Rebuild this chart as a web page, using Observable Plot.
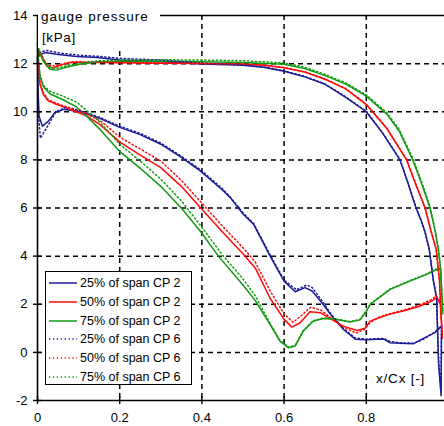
<!DOCTYPE html>
<html><head><meta charset="utf-8">
<script src="https://cdn.jsdelivr.net/npm/d3@7"></script>
<script src="https://cdn.jsdelivr.net/npm/@observablehq/plot@0.6"></script>
<style>
body{margin:0;background:#fff;}
#wrap{position:relative;width:444px;height:426px;overflow:hidden;font-family:"Liberation Sans",Arial,sans-serif;color:#000;}
.lbl{position:absolute;white-space:nowrap;line-height:15px;}
#legend{position:absolute;left:45px;top:271px;width:145px;height:112px;border:1.5px solid #000;background:#fff;}
.row{position:absolute;left:0;height:18px;display:flex;align-items:center;font-size:12.5px;white-space:nowrap;}
.row svg{margin-left:3px;margin-right:3px;}
</style></head><body><div id="wrap"></div>
<script>
// ---- data (x/Cx, gauge pressure kPa), loop: pressure side LE->TE, then suction side TE->LE
const x25cp2 = [0,0.005,0.018,0.046,0.095,0.145,0.2,0.3,0.4,0.5,0.55,0.6,0.65,0.7,0.75,0.8,0.84,0.882,0.902,0.921,0.933,0.943,0.953,0.963,0.971,0.976,0.982,0.983,0.967,0.939,0.915,0.88,0.858,0.842,0.8,0.773,0.744,0.716,0.692,0.668,0.651,0.627,0.6,0.566,0.526,0.5,0.469,0.45,0.396,0.35,0.3,0.25,0.2,0.153,0.104,0.064,0.042,0.026,0.012,0.004,0.001,0];
const p25cp2 = [12.2,12.35,12.46,12.39,12.3,12.25,12.15,12.08,11.98,11.93,11.85,11.68,11.45,11.14,10.6,10.0,9.1,8.0,7.0,6.0,5.5,5.0,4.3,3.0,2.27,-0.5,-1.8,1.09,0.82,0.58,0.36,0.38,0.40,0.56,0.52,0.55,0.96,1.51,2.06,2.55,2.69,2.52,2.96,4.0,5.32,5.75,6.43,6.75,7.54,8.1,8.65,9.05,9.35,9.72,10.0,10.1,9.96,9.6,9.4,9.8,11.0,12.2];

const x25cp6 = [0,0.005,0.02,0.05,0.1,0.15,0.2,0.3,0.4,0.5,0.55,0.6,0.65,0.7,0.75,0.8,0.84,0.882,0.902,0.921,0.933,0.943,0.953,0.963,0.971,0.976,0.982,0.983,0.967,0.94,0.915,0.88,0.858,0.842,0.8,0.773,0.744,0.716,0.692,0.668,0.655,0.63,0.6,0.566,0.526,0.5,0.469,0.45,0.396,0.35,0.3,0.25,0.2,0.153,0.104,0.07,0.045,0.028,0.014,0.007,0.002,0];
const p25cp6 = [12.3,12.45,12.55,12.45,12.35,12.3,12.22,12.15,12.02,11.95,11.86,11.7,11.47,11.15,10.62,10.02,9.12,8.02,7.02,6.02,5.5,5.0,4.3,3.0,2.3,-0.4,-1.6,1.1,0.85,0.55,0.38,0.4,0.45,0.58,0.55,0.6,1.0,1.55,2.15,2.7,2.8,2.6,3.0,4.05,5.35,5.8,6.45,6.8,7.6,8.15,8.7,9.1,9.4,9.75,10.05,10.2,10.0,9.5,9.1,8.9,10.0,12.3];

const x50cp2 = [0,0.006,0.014,0.022,0.038,0.062,0.08,0.15,0.3,0.4,0.5,0.55,0.6,0.65,0.7,0.75,0.8,0.85,0.898,0.92,0.943,0.958,0.97,0.978,0.982,0.985,0.98,0.971,0.959,0.931,0.89,0.86,0.833,0.809,0.797,0.777,0.744,0.716,0.688,0.663,0.639,0.619,0.6,0.566,0.53,0.5,0.45,0.4,0.35,0.3,0.25,0.2,0.151,0.119,0.079,0.046,0.026,0.014,0.006,0.002,0];
const p50cp2 = [12.3,12.5,12.18,11.9,11.82,11.97,12.06,12.05,12.02,12.0,11.98,11.93,11.83,11.65,11.35,10.95,10.3,9.3,8.0,7.0,6.0,5.0,4.28,3.0,1.5,0.6,2.0,2.27,2.13,1.93,1.72,1.6,1.45,1.3,1.0,0.91,1.09,1.37,1.65,1.69,1.23,1.05,1.37,2.25,3.5,4.1,5.0,5.95,6.9,7.68,8.2,8.75,9.48,9.83,10.1,10.31,10.45,10.73,11.14,11.97,12.3];

const x50cp6 = [0,0.006,0.014,0.024,0.04,0.065,0.09,0.15,0.3,0.4,0.5,0.55,0.6,0.65,0.7,0.75,0.8,0.85,0.898,0.92,0.943,0.958,0.97,0.978,0.982,0.985,0.98,0.971,0.959,0.931,0.89,0.86,0.833,0.81,0.795,0.775,0.744,0.716,0.69,0.665,0.64,0.622,0.6,0.566,0.53,0.5,0.45,0.4,0.35,0.3,0.25,0.2,0.155,0.12,0.08,0.046,0.026,0.014,0.006,0.002,0];
const p50cp6 = [12.35,12.45,12.2,11.95,11.9,12.0,12.08,12.06,12.03,12.01,11.98,11.94,11.84,11.66,11.36,10.96,10.32,9.32,8.02,7.02,6.02,5.02,4.3,3.0,1.6,0.7,2.1,2.35,2.2,1.98,1.75,1.62,1.48,1.25,0.95,0.8,1.05,1.4,1.75,1.88,1.5,1.25,1.6,2.55,3.75,4.35,5.25,6.2,7.15,7.95,8.45,8.95,9.6,9.9,10.15,10.35,10.5,10.8,11.2,12.0,12.35];

const x75cp2 = [0,0.006,0.014,0.03,0.046,0.072,0.103,0.15,0.3,0.4,0.5,0.6,0.65,0.7,0.75,0.8,0.85,0.88,0.913,0.935,0.955,0.968,0.975,0.98,0.986,0.981,0.967,0.947,0.906,0.858,0.83,0.81,0.8,0.785,0.761,0.728,0.696,0.671,0.647,0.627,0.611,0.59,0.566,0.53,0.5,0.44,0.4,0.35,0.3,0.25,0.2,0.15,0.12,0.095,0.062,0.03,0.014,0.006,0.002,0];
const p75cp2 = [12.8,12.4,12.11,11.77,11.73,11.86,11.97,12.08,12.1,12.08,12.05,11.97,11.8,11.5,11.15,10.65,9.9,9.2,8.0,7.0,6.0,5.0,4.3,3.6,1.6,3.45,3.41,3.24,2.96,2.62,2.25,2.0,1.7,1.35,1.26,1.37,1.41,1.3,0.89,0.26,0.19,0.47,1.15,2.15,2.8,4.0,4.95,6.0,6.9,7.65,8.35,9.3,9.8,10.2,10.5,10.75,11.05,11.5,12.2,12.8];

const x75cp6 = [0,0.006,0.014,0.03,0.046,0.072,0.103,0.15,0.3,0.4,0.5,0.6,0.65,0.7,0.75,0.8,0.85,0.88,0.913,0.935,0.955,0.968,0.975,0.98,0.986,0.981,0.967,0.947,0.906,0.858,0.83,0.81,0.8,0.785,0.761,0.728,0.696,0.671,0.647,0.627,0.611,0.59,0.566,0.53,0.5,0.45,0.4,0.35,0.3,0.25,0.2,0.15,0.12,0.095,0.062,0.03,0.014,0.006,0.002,0];
const p75cp6 = [12.85,12.45,12.15,11.85,11.8,11.92,12.02,12.12,12.16,12.15,12.12,12.03,11.85,11.55,11.2,10.7,9.96,9.27,8.07,7.07,6.07,5.05,4.35,3.6,1.7,3.5,3.45,3.26,2.98,2.64,2.28,2.02,1.72,1.38,1.28,1.38,1.43,1.32,0.92,0.3,0.22,0.5,1.2,2.35,3.05,4.05,5.2,6.3,7.2,7.95,8.65,9.6,10.05,10.4,10.65,10.85,11.1,11.55,12.25,12.85];

const seriesNames = ["25% of span CP 2","50% of span CP 2","75% of span CP 2","25% of span CP 6","50% of span CP 6","75% of span CP 6"];
const xTicks = [0,0.2,0.4,0.6,0.8];
const yTicks = [-2,0,2,4,6,8,10,12,14];
const xGrid = [0.2,0.4,0.6,0.8];
const yGrid = [0,2,4,6,8,10,12];

// ---- styling
const BLUE = "#1c1c98", RED = "#ff0a0a", GREEN = "#139a13";
const series = [
  {name: seriesNames[0], x: x25cp2, p: p25cp2, color: BLUE, dotted: false},
  {name: seriesNames[1], x: x50cp2, p: p50cp2, color: RED, dotted: false},
  {name: seriesNames[2], x: x75cp2, p: p75cp2, color: GREEN, dotted: false},
  {name: seriesNames[3], x: x25cp6, p: p25cp6, color: BLUE, dotted: true},
  {name: seriesNames[4], x: x50cp6, p: p50cp6, color: RED, dotted: true},
  {name: seriesNames[5], x: x75cp6, p: p75cp6, color: GREEN, dotted: true}
];
const rows = series.flatMap((s, k) => s.x.map((x, i) => ({x, p: s.p[i], k, color: s.color, dotted: s.dotted})));
const DASH = "1.3,2.6";

const chart = Plot.plot({
  width: 444, height: 426,
  marginTop: 15, marginBottom: 26, marginLeft: 37, marginRight: -4,
  x: {domain: [0, 1]},
  y: {domain: [-2, 14]},
  color: {type: "identity"},
  style: {fontFamily: "'Liberation Sans', Arial, sans-serif", fontSize: "13px", background: "white", overflow: "visible"},
  marks: [
    Plot.ruleX(xGrid, {stroke: "#000", strokeWidth: 1.5, strokeDasharray: "5,4"}),
    Plot.ruleY(yGrid, {stroke: "#000", strokeWidth: 1.5, strokeDasharray: "5,4"}),
    Plot.line(rows.filter(d => !d.dotted), {x: "x", y: "p", z: "k", stroke: "color", strokeWidth: 1.5}),
    Plot.line(rows.filter(d => d.dotted), {x: "x", y: "p", z: "k", stroke: "color", strokeWidth: 1.5, strokeDasharray: DASH}),
    Plot.ruleY([14], {stroke: "#000", strokeWidth: 1.6}),
    Plot.ruleY([-2], {stroke: "#000", strokeWidth: 1.6}),
    Plot.ruleX([0], {stroke: "#000", strokeWidth: 1.6}),
    Plot.ruleY(yTicks, {y: d => d, x1: 0, x2: 0, insetLeft: -4, insetRight: -4, stroke: "#000", strokeWidth: 1.4}),
    Plot.ruleX(xTicks, {x: d => d, y1: -2, y2: -2, insetTop: -4, insetBottom: -4, stroke: "#000", strokeWidth: 1.4}),
    Plot.axisY({ticks: yTicks, tickSize: 0, tickPadding: 10, tickFormat: d => String(d), label: null}),
    Plot.axisX({ticks: xTicks, tickSize: 0, tickPadding: 12, tickFormat: d => String(d), label: null})
  ]
});

const wrap = document.getElementById("wrap");
wrap.appendChild(chart);

// axis titles
function addDiv(cls, css, html) {
  const d = document.createElement("div");
  d.className = cls; d.style.cssText = css; d.innerHTML = html || "";
  wrap.appendChild(d); return d;
}
addDiv("", "position:absolute;left:38px;top:3px;width:122px;height:45px;background:#fff;");
addDiv("lbl", "left:41px;top:9px;font-size:13.5px;letter-spacing:1px;", "gauge pressure");
addDiv("lbl", "left:42px;top:30px;font-size:13.5px;letter-spacing:0.6px;", "[kPa]");
addDiv("lbl", "left:376px;top:371px;font-size:13.5px;letter-spacing:0.8px;", "x/Cx [-]");

// legend
const legend = addDiv("", "", "");
legend.id = "legend";
series.forEach((s, i) => {
  const r = document.createElement("div");
  r.className = "row";
  r.style.top = (2 + i * 18.8) + "px";
  r.innerHTML = `<svg width="28" height="6"><line x1="0" x2="28" y1="3" y2="3" stroke="${s.color}" stroke-width="1.5" ${s.dotted ? `stroke-dasharray="${DASH}"` : ""}/></svg><span>${s.name}</span>`;
  legend.appendChild(r);
});
</script></body></html>
